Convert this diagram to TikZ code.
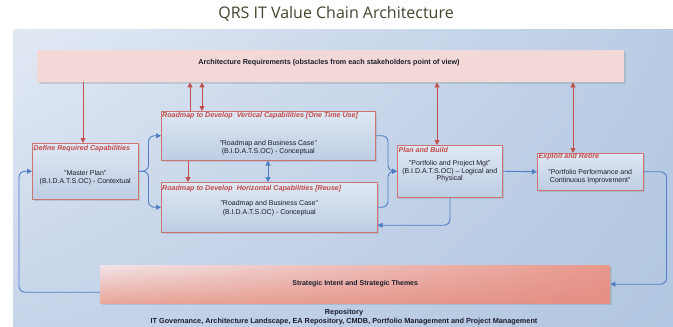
\documentclass[tikz,border=0pt]{standalone}
\usepackage{fontspec}
\setmainfont{Liberation Sans}
\newfontfamily\titlefont{Open Sans}
\usetikzlibrary{arrows.meta,shadows,shadings}
\definecolor{redl}{HTML}{C0504D}
\definecolor{bluel}{HTML}{4F7EC4}
\definecolor{txt}{HTML}{1C1C2C}
\definecolor{ttl}{HTML}{C24A48}
\definecolor{titlec}{HTML}{45452F}
\definecolor{bgul}{HTML}{E2E9F4}
\definecolor{bgll}{HTML}{C6D4E9}
\definecolor{bgur}{HTML}{B9CCE4}
\definecolor{bglr}{HTML}{B2C7E1}
\definecolor{boxtop}{HTML}{DFE8F3}
\definecolor{boxbot}{HTML}{BDCDE3}
\definecolor{reqfill}{HTML}{F3D8D8}
\definecolor{stul}{HTML}{F2E3E7}
\definecolor{stll}{HTML}{E8A698}
\definecolor{stur}{HTML}{E8978B}
\definecolor{stlr}{HTML}{E48E83}
\begin{document}
\begin{tikzpicture}[x=1pt,y=-1pt,
  shadowed/.style={drop shadow={opacity=0.25,shadow xshift=1.5pt,shadow yshift=-1.5pt}},
  stagebox/.style={shadowed,draw=redl!80,line width=0.5pt,inner sep=0pt,anchor=north west,
    top color=boxtop,bottom color=boxbot},
  boxtitle/.style={anchor=west,inner sep=0pt,text=ttl,font=\fontsize{7.1}{8}\selectfont\bfseries\itshape},
  boxbody/.style={align=center,inner sep=0pt,text=txt,font=\fontsize{7}{8.6}\selectfont},
  redarr/.style={draw=redl,line width=0.9pt,-{Triangle[length=5pt,width=5pt]}},
  redboth/.style={draw=redl,line width=0.9pt,{Triangle[length=5pt,width=5pt]}-{Triangle[length=5pt,width=5pt]}},
  bluearr/.style={draw=bluel,line width=0.9pt,rounded corners=6pt,-{Triangle[length=5pt,width=5pt]}},
  blueboth/.style={draw=bluel,line width=0.9pt,{Triangle[length=5pt,width=5pt]}-{Triangle[length=5pt,width=5pt]}}]
\useasboundingbox (0,0) rectangle (673,327);
\fill[white] (0,0) rectangle (673,327);
\shade[upper left=bgul,lower left=bgll,upper right=bgur,lower right=bglr] (13,29) rectangle (673,327);
\node[font=\titlefont\fontsize{16}{18}\selectfont,text=titlec,inner sep=0pt] (title) at (336,14) {QRS IT Value Chain Architecture};

\node[shadowed,anchor=north west,inner sep=0pt,minimum width=587pt,minimum height=32pt,
  fill=reqfill] (req) at (37,50) {};
\node[font=\fontsize{7.2}{8}\selectfont\bfseries,text=txt,inner sep=0pt] (reqt) at (329,63) {Architecture Requirements (obstacles from each stakeholders point of view)};

\node[stagebox,minimum width=106pt,minimum height=56pt] (def) at (32,143) {};
\node[stagebox,minimum width=214pt,minimum height=49pt] (vert) at (161,111) {};
\node[stagebox,minimum width=216pt,minimum height=50pt] (hor) at (161,182) {};
\node[stagebox,minimum width=105pt,minimum height=52pt] (plan) at (397,145) {};
\node[stagebox,minimum width=106pt,minimum height=37pt] (expl) at (537,153) {};

\node[boxtitle] (deft) at ([xshift=1.5pt,yshift=-6pt]def.north west) {Define Required Capabilities};
\node[boxbody] (defb) at ([yshift=-6.5pt]def.center) {"Master Plan"\\(B.I.D.A.T.S.OC) - Contextual};
\node[boxtitle] (vertt) at ([xshift=1pt,yshift=-4.5pt]vert.north west) {Roadmap to Develop\ \ Vertical Capabilities [One Time Use]};
\node[boxbody] (vertb) at ([yshift=-12pt]vert.center) {"Roadmap and Business Case"\\(B.I.D.A.T.S.OC) - Conceptual};
\node[boxtitle] (hort) at ([xshift=1pt,yshift=-7pt]hor.north west) {Roadmap to Develop\ \ Horizontal Capabilities [Reuse]};
\node[boxbody] (horb) at ([yshift=-1pt]hor.center) {"Roadmap and Business Case"\\(B.I.D.A.T.S.OC) - Conceptual};
\node[boxtitle] (plant) at ([xshift=1.5pt,yshift=-5pt]plan.north west) {Plan and Build};
\node[boxbody,font=\fontsize{7}{7.4}\selectfont] (planb) at (plan.center) {"Portfolio and Project Mgt"\\(B.I.D.A.T.S.OC) -- Logical and\\Physical};
\node[boxtitle] (explt) at ([xshift=1.5pt,yshift=-4pt]expl.north west) {Exploit and Retire};
\node[boxbody,font=\fontsize{7}{7.8}\selectfont] (explb) at ([yshift=-5pt]expl.center) {"Portfolio Performance and\\Continuous Improvement"};

\node[shadowed,anchor=north west,inner sep=0pt,minimum width=510pt,minimum height=38pt,
  shade,upper left=stul,lower left=stll,upper right=stur,lower right=stlr] (strat) at (100,265) {};
\node[font=\fontsize{7}{8}\selectfont\bfseries,text=txt,inner sep=0pt] (stratt) at (strat.center) {Strategic Intent and Strategic Themes};

\node[font=\fontsize{7.3}{9}\selectfont\bfseries,text=txt,align=center,inner sep=0pt] (repo) at (344,317.5) {Repository\\IT Governance, Architecture Landscape, EA Repository, CMDB, Portfolio Management and Project Management};

% red connectors
\draw[redarr] ([xshift=46pt]req.south west) -- ([xshift=51pt]def.north west);
\draw[redarr] ([xshift=29pt]vert.north west) -- ([xshift=153pt]req.south west);
\draw[redboth] ([xshift=41pt]vert.north west) -- ([xshift=165pt]req.south west);
\draw[redarr] ([xshift=27pt]vert.south west) -- ([xshift=27pt]hor.north west);
\draw[redboth] ([xshift=400pt]req.south west) -- ([xshift=40pt]plan.north west);
\draw[redboth] ([xshift=536pt]req.south west) -- ([xshift=36pt]expl.north west);
% blue connectors
\draw[blueboth] ([xshift=107pt]vert.south west) -- ([xshift=107pt]hor.north west);
\draw[bluearr] (def.east) -- ([xshift=10pt]def.east) |- (vert.west);
\draw[bluearr] (def.east) -- ([xshift=10pt]def.east) |- (hor.west);
\draw[bluearr] (vert.east) -| ([xshift=-9pt]plan.west) -- (plan.west);
\draw[bluearr] (hor.east) -| ([xshift=-9pt]plan.west) -- (plan.west);
\draw[bluearr] (plan.east) -- (expl.west);
\draw[bluearr] (expl.east) -- ([xshift=23pt]expl.east) |- (strat.east);
\draw[bluearr] ([xshift=53pt]plan.south west) |- ([yshift=-18pt]hor.east);
\draw[bluearr] ([yshift=-8pt]strat.west) -| ([xshift=-13pt]def.west) -- (def.west);
\end{tikzpicture}
\end{document}
